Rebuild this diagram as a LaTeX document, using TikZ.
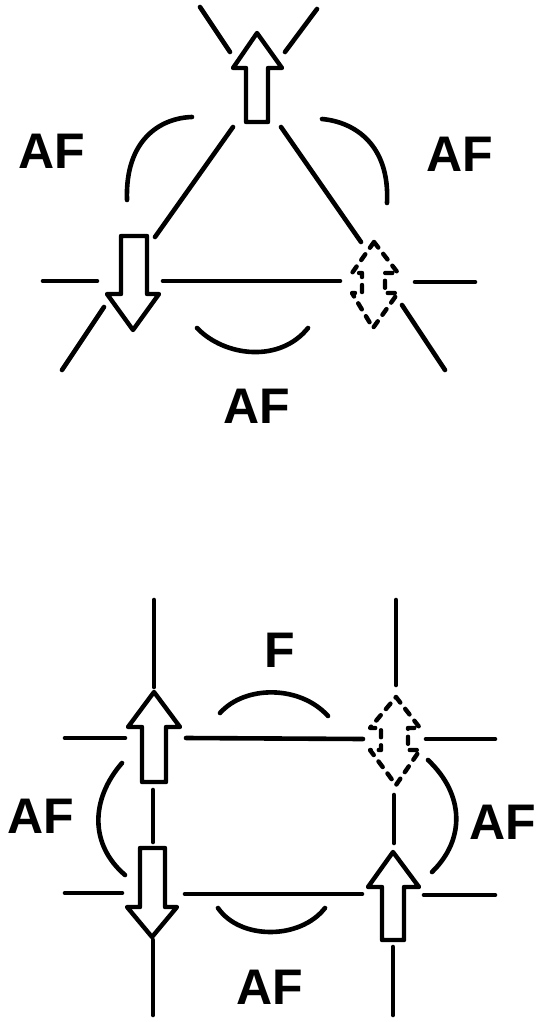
\documentclass[tikz,border=0pt]{standalone}
\usepackage{fontspec}
\setmainfont{Liberation Sans}
\begin{document}
\begin{tikzpicture}[x=1pt,y=-1pt,
  ln/.style={line width=4.6pt,line cap=round,line join=round},
  arr/.style={line width=4.4pt,line join=round,fill=white},
  darr/.style={line width=4.4pt,line cap=round,line join=round,dash pattern=on 7pt off 8pt},
  lbl/.style={font=\fontsize{50}{50}\selectfont\bfseries,inner sep=0pt}]
\useasboundingbox (0,0) rectangle (545,1022);
% ---------- triangle ----------
\coordinate (tTop) at (256,90);
\draw[ln] (43,281) -- (97,281);
\draw[ln] (163,281) -- (340,281);
\draw[ln] (415,282) -- (475,282);
\draw[ln] (200,7) -- (230,52);
\draw[ln] (317,9) -- (285,52);
\draw[ln] (281,127) -- (361,242);
\draw[ln] (402,305) -- (445,370);
\draw[ln] (233,127) -- (155,237);
\draw[ln] (104,307) -- (62,370);
% arrows
\draw[arr] (257,33) -- (282,68) -- (268,68) -- (268,122) -- (246,122) -- (246,68) -- (233,68) -- cycle;
\draw[arr] (133,330) -- (159,294) -- (147,294) -- (147,236) -- (121,236) -- (121,294) -- (107,294) -- cycle;
\draw[darr] (374,242) -- (398,273) -- (385,273) -- (385,293) -- (398,293) -- (373,328) -- (352,293) -- (362,293) -- (362,273) -- (352,273) -- cycle;
% arcs
\draw[ln] (127,200) .. controls (125,140) and (160,118) .. (192,117);
\draw[ln] (322,119) .. controls (355,122) and (390,145) .. (387,203);
\draw[ln] (197,328) .. controls (225,357) and (280,363) .. (308,328);
\node[lbl] (lA) at (52,151) {AF};
\node[lbl] (lB) at (460,154) {AF};
\node[lbl] (lC) at (257,406) {AF};
% ---------- square ----------
\draw[ln] (154,600) -- (154,687);
\draw[ln] (153,790) -- (153,842);
\draw[ln] (153,940) -- (153,1015);
\draw[ln] (396,600) -- (396,685);
\draw[ln] (394,795) -- (394,843);
\draw[ln] (393,947) -- (393,1015);
\draw[ln] (65,738) -- (125,738);
\draw[ln] (186,738) -- (363,739);
\draw[ln] (426,739) -- (495,739);
\draw[ln] (65,893) -- (122,893);
\draw[ln] (185,894) -- (362,894);
\draw[ln] (424,895) -- (495,895);
% arrows
\draw[arr] (154,692) -- (180,727) -- (166,727) -- (166,782) -- (142,782) -- (142,727) -- (128,727) -- cycle;
\draw[darr] (396,697) -- (420,728) -- (408,728) -- (408,750) -- (420,750) -- (396,785) -- (370,750) -- (381,750) -- (381,728) -- (370,728) -- cycle;
\draw[arr] (152,937) -- (177,907) -- (165,907) -- (165,848) -- (140,848) -- (140,907) -- (127,907) -- cycle;
\draw[arr] (393,852) -- (419,887) -- (404,887) -- (404,940) -- (382,940) -- (382,887) -- (368,887) -- cycle;
% arcs
\draw[ln] (220,713) .. controls (245,685) and (300,685) .. (328,716);
\draw[ln] (218,908) .. controls (240,940) and (300,940) .. (325,908);
\draw[ln] (122,763) .. controls (90,800) and (90,845) .. (125,875);
\draw[ln] (428,760) .. controls (465,795) and (465,840) .. (432,872);
\node[lbl] (lD) at (280,650) {F};
\node[lbl] (lE) at (41,816) {AF};
\node[lbl] (lF) at (503,822) {AF};
\node[lbl] (lG) at (270,987) {AF};
\end{tikzpicture}
\end{document}
